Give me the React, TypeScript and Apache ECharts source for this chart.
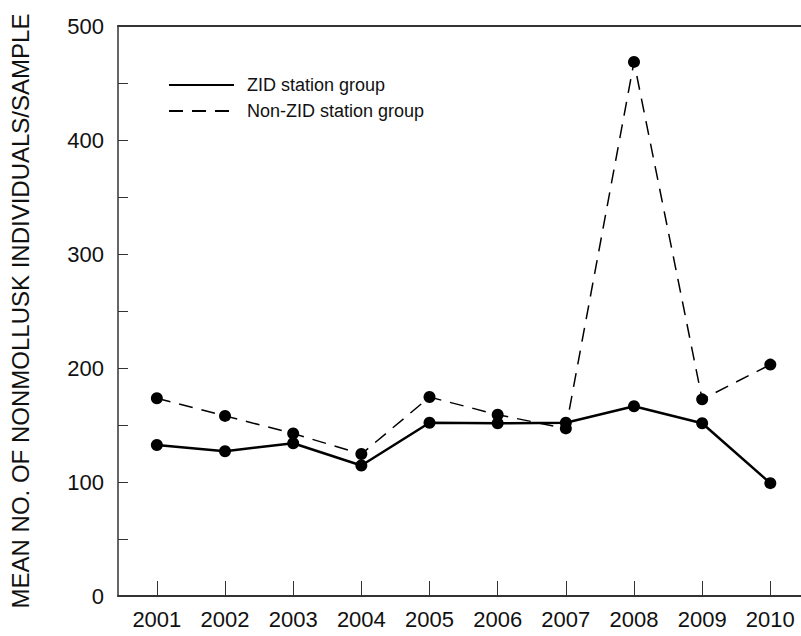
import React, { useEffect, useRef } from "react";
import * as echarts from "echarts";

const years = [2001, 2002, 2003, 2004, 2005, 2006, 2007, 2008, 2009, 2010];
const zidValues = [132.5, 127, 134, 114.5, 152, 151.5, 152, 166.5, 151.5, 99];
const nonZidValues = [173.5, 158, 142.5, 124.5, 174.5, 159, 147, 468.5, 172.5, 203];
const seriesNames = ["ZID station group", "Non-ZID station group"];
const yTickLabels = [0, 100, 200, 300, 400, 500];
const yTitle = "MEAN NO. OF NONMOLLUSK INDIVIDUALS/SAMPLE";

const FONT = "'Liberation Sans', Arial, Helvetica, sans-serif";

export default function App() {
  const ref = useRef<HTMLDivElement>(null);
  useEffect(() => {
    if (!ref.current) return;
    const chart = echarts.init(ref.current, null, { renderer: "svg" });
    const zidData = years.map((y, i) => [y, zidValues[i]]);
    const nonData = years.map((y, i) => [y, nonZidValues[i]]);
    chart.setOption({
      animation: false,
      backgroundColor: "#ffffff",
      textStyle: { fontFamily: FONT },
      grid: { left: 110, top: 26, right: 0, bottom: 40, containLabel: false },
      legend: {
        left: 163,
        top: 71,
        orient: "vertical",
        itemWidth: 65,
        itemHeight: 14,
        itemGap: 8,
        data: seriesNames,
        itemStyle: { opacity: 0 },
        textStyle: { fontSize: 18, color: "#111", fontFamily: FONT, padding: [0, 0, 0, 8] },
      },
      xAxis: [
        {
          type: "value",
          min: 2000.43,
          max: 2010.45,
          position: "bottom",
          splitLine: { show: false },
          axisLine: { show: true, lineStyle: { color: "#333", width: 2 } },
          axisTick: { show: true, inside: true, length: 15, customValues: years, lineStyle: { color: "#333", width: 1 } },
          axisLabel: {
            customValues: years,
            formatter: (v: number) => String(Math.round(v)),
            fontSize: 22,
            color: "#111",
            margin: 12,
            fontFamily: FONT,
          },
        },
        {
          type: "value",
          min: 2000.43,
          max: 2010.45,
          position: "top",
          splitLine: { show: false },
          axisLine: { show: true, lineStyle: { color: "#333", width: 2 } },
          axisTick: { show: false },
          axisLabel: { show: false },
        },
      ],
      yAxis: {
        type: "value",
        min: 0,
        max: 500,
        interval: 50,
        name: yTitle,
        nameLocation: "middle",
        nameGap: 86,
        nameTextStyle: { fontSize: 24, color: "#111", fontFamily: FONT },
        splitLine: { show: false },
        axisLine: { show: true, lineStyle: { color: "#333", width: 1.5 } },
        axisTick: { show: true, inside: true, length: 10, lineStyle: { color: "#333", width: 1 } },
        axisLabel: {
          formatter: (v: number) => (yTickLabels.includes(v) ? String(v) : ""),
          fontSize: 22,
          color: "#111",
          margin: 14,
          fontFamily: FONT,
        },
      },
      series: [
        {
          name: seriesNames[1],
          type: "line",
          data: nonData,
          symbol: "circle",
          symbolSize: 12,
          itemStyle: { color: "#000" },
          lineStyle: { color: "#000", width: 1.5, type: [14, 9] },
        },
        {
          name: seriesNames[0],
          type: "line",
          data: zidData,
          symbol: "circle",
          symbolSize: 12,
          itemStyle: { color: "#000" },
          lineStyle: { color: "#000", width: 2.5, type: "solid" },
        },
      ],
    });
    return () => chart.dispose();
  }, []);
  return (
    <div
      ref={ref}
      style={{ position: "fixed", left: 0, top: 0, width: 801, height: 636, background: "#fff" }}
    />
  );
}
